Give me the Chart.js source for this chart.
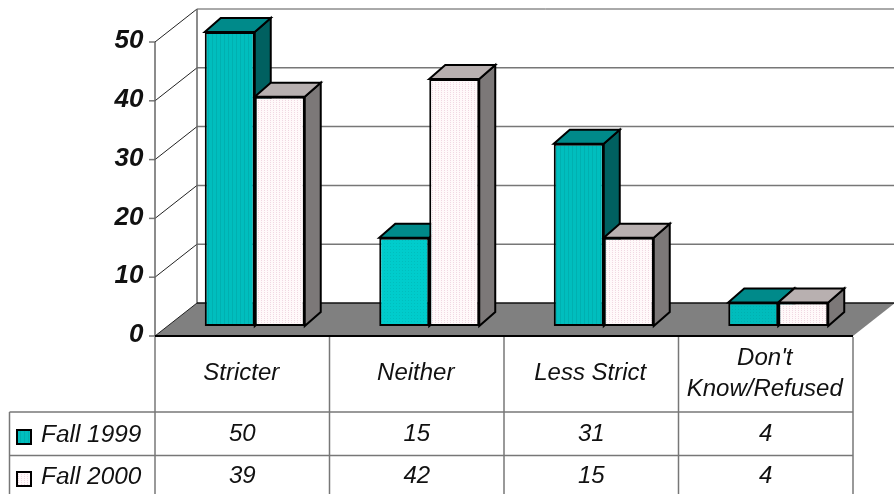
<!DOCTYPE html>
<html><head><meta charset="utf-8">
<style>html,body{margin:0;padding:0;background:#fff}canvas{display:block}</style>
<script src="https://cdn.jsdelivr.net/npm/chart.js@4/dist/chart.umd.min.js"></script>
</head><body><canvas id="c" width="894" height="494"></canvas>
<script>
const categories = [["Stricter"], ["Neither"], ["Less Strict"], ["Don't", "Know/Refused"]];
const seriesNames = ["Fall 1999", "Fall 2000"];
const fall1999 = [50, 15, 31, 4];
const fall2000 = [39, 42, 15, 4];
const yTicks = [0, 10, 20, 30, 40, 50];

const FONT = '"Liberation Sans", Arial, sans-serif';
function pattern(base, dot, w, h, pts) {
  const p = document.createElement('canvas'); p.width = w; p.height = h;
  const g = p.getContext('2d'); g.fillStyle = base; g.fillRect(0, 0, w, h);
  g.fillStyle = dot; pts.forEach(q => g.fillRect(q[0], q[1], 1, 1));
  return g.createPattern(p, 'repeat');
}
const tealStripe = pattern('#00BEBE', '#00B0B0', 4, 2, [[0,0],[0,1]]);
const tealBright = pattern('#00CCCC', '#00BEBE', 3, 3, [[0,0]]);
const tealDot = pattern('#00BCBC', '#00B0B0', 3, 3, [[0,0]]);
const whiteFront = pattern('#FFF9FA', '#F0D8E2', 3, 2, [[0,0]]);
const looks = [
  {top:'#008A8A', side:'#006060', key:tealStripe},
  {top:'#B8B0B0', side:'#7C7878', key:whiteFront}
];
const DX = 16, DY = -14;           // bar depth
const AX = 12.5, AY = 10;          // bar plane → front axis plane
const WX = 42, WY = -33;           // front axis plane → back wall

const scene = {
  id: 'scene',
  beforeDatasetsDraw(chart) {
    const {ctx, scales:{x, y}} = chart;
    const front = v => y.getPixelForValue(v) + AY;
    const left = chart.chartArea.left - AX;
    const colEdges = categories.map((_, i) => x.getPixelForValue(i) - AX - x.width / categories.length / 2);
    const right = colEdges[colEdges.length - 1] + x.width / categories.length;
    ctx.save();
    // floor
    ctx.fillStyle = '#808080';
    ctx.beginPath();
    ctx.moveTo(left, front(0)); ctx.lineTo(right, front(0));
    ctx.lineTo(right + WX, front(0) + WY); ctx.lineTo(left + WX, front(0) + WY);
    ctx.closePath(); ctx.fill();
    // wall grid
    yTicks.forEach(v => {
      const fy = front(v), by = fy + WY;
      ctx.strokeStyle = '#222'; ctx.lineWidth = 1;
      ctx.beginPath(); ctx.moveTo(left, fy); ctx.lineTo(left + WX, by); ctx.stroke();
      if (v > 0) {
        ctx.strokeStyle = v === 50 ? '#555' : '#777'; ctx.lineWidth = v === 50 ? 1 : 1.5;
        ctx.beginPath(); ctx.moveTo(left + WX, by); ctx.lineTo(894, by); ctx.stroke();
      }
      ctx.strokeStyle = '#777'; ctx.lineWidth = 1.5;
      ctx.beginPath(); ctx.moveTo(left - 6, fy); ctx.lineTo(left, fy); ctx.stroke();
    });
    ctx.strokeStyle = '#666'; ctx.lineWidth = 1.5;
    ctx.beginPath(); ctx.moveTo(left + WX, front(50) + WY); ctx.lineTo(left + WX, front(0) + WY); ctx.stroke();
    ctx.beginPath(); ctx.moveTo(left, front(50)); ctx.lineTo(left, front(0)); ctx.stroke();
    ctx.strokeStyle = '#111'; ctx.lineWidth = 1.5;
    ctx.beginPath(); ctx.moveTo(left + WX, front(0) + WY); ctx.lineTo(right + WX, front(0) + WY); ctx.stroke();
    ctx.strokeStyle = '#000'; ctx.lineWidth = 2;
    ctx.beginPath(); ctx.moveTo(left, front(0)); ctx.lineTo(right, front(0)); ctx.stroke();

    // bar tops and sides
    const n0 = chart.getDatasetMeta(0).data, n1 = chart.getDatasetMeta(1).data;
    ctx.strokeStyle = '#000'; ctx.lineWidth = 2; ctx.lineJoin = 'miter';
    categories.forEach((_, i) => {
      [n0[i], n1[i]].forEach((b, s) => {
        const l = b.x - b.width / 2, r = b.x + b.width / 2, t = b.y, bt = b.base;
        ctx.fillStyle = looks[s].side;
        ctx.beginPath(); ctx.moveTo(r, t); ctx.lineTo(r + DX, t + DY); ctx.lineTo(r + DX, bt + DY); ctx.lineTo(r, bt); ctx.closePath(); ctx.fill(); ctx.stroke();
        ctx.fillStyle = looks[s].top;
        ctx.beginPath(); ctx.moveTo(l, t); ctx.lineTo(l + DX, t + DY); ctx.lineTo(r + DX, t + DY); ctx.lineTo(r, t); ctx.closePath(); ctx.fill(); ctx.stroke();
      });
    });
    ctx.restore();
  },
  afterDraw(chart) {
    const {ctx, scales:{x, y}} = chart;
    const colW = x.width / categories.length;
    const left = chart.chartArea.left - AX;
    const right = left + colW * categories.length;
    const floorY = y.getPixelForValue(0) + AY;
    const rowY = [412, 455.5];
    const textY = [434, 476];
    ctx.save();
    ctx.strokeStyle = '#777'; ctx.lineWidth = 1.5;
    const line = (a, b, c, d) => { ctx.beginPath(); ctx.moveTo(a, b); ctx.lineTo(c, d); ctx.stroke(); };
    rowY.forEach(ry => line(9.5, ry, right, ry));
    line(9.5, rowY[0], 9.5, 494);
    for (let i = 0; i <= categories.length; i++) line(left + colW * i, floorY + 1, left + colW * i, 494);
    ctx.fillStyle = '#111'; ctx.textBaseline = 'middle'; ctx.textAlign = 'center';
    ctx.font = 'italic 24px ' + FONT;
    [fall1999, fall2000].forEach((vals, s) => {
      vals.forEach((v, i) => ctx.fillText(String(v), x.getPixelForValue(i) - AX, textY[s]));
    });
    ctx.textAlign = 'left';
    ctx.font = 'italic 24.4px ' + FONT;
    seriesNames.forEach((name, s) => {
      ctx.fillStyle = '#111';
      ctx.fillText(name, 41, textY[s] + 1);
      ctx.fillStyle = looks[s].key; ctx.fillRect(17, textY[s] - 4, 14, 14);
      ctx.strokeStyle = '#000'; ctx.lineWidth = 2; ctx.strokeRect(17, textY[s] - 4, 14, 14);
    });
    ctx.restore();
  }
};

new Chart(document.getElementById('c'), {
  type: 'bar',
  data: {
    labels: categories,
    datasets: [
      {label: seriesNames[0], data: fall1999, backgroundColor: [tealStripe, tealBright, tealStripe, tealDot]},
      {label: seriesNames[1], data: fall2000, backgroundColor: whiteFront}
    ]
  },
  options: {
    responsive: false, animation: false, devicePixelRatio: 1,
    layout: {padding: {top: 32, right: 28.5, left: 0, bottom: 0}},
    plugins: {legend: {display: false}, title: {display: false}, tooltip: {enabled: false}},
    datasets: {bar: {categoryPercentage: 0.573, barPercentage: 1, borderColor: '#000', borderWidth: 2, borderSkipped: false, clip: false}},
    scales: {
      x: {
        grid: {display: false, drawTicks: false}, border: {display: false},
        afterFit(s) { s.height = 168; s.paddingLeft = 0; s.paddingRight = 0; },
        ticks: {color: '#111', font: {family: FONT, size: 24, style: 'italic', lineHeight: 1.29}, maxRotation: 0, autoSkip: false, labelOffset: -13.5, padding: 32, crossAlign: 'center'}
      },
      y: {
        min: 0, max: 50,
        grid: {display: false, drawTicks: false}, border: {display: false},
        afterFit(s) { s.width = 167.5; s.paddingTop = 0; s.paddingBottom = 0; },
        ticks: {color: '#111', stepSize: 10, font: {family: FONT, size: 26, style: 'italic', weight: 'bold'}, labelOffset: 9, padding: 24}
      }
    }
  },
  plugins: [scene]
});
</script></body></html>
